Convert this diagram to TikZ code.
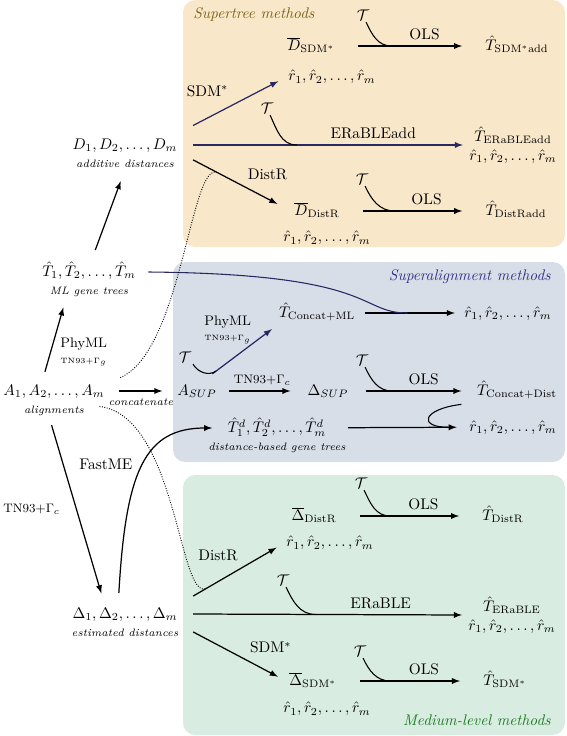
\documentclass[tikz,border=0pt]{standalone}
\usepackage{amsmath}
\usepackage{amssymb}
\usetikzlibrary{positioning,calc}
\definecolor{supfill}{HTML}{F9E7C9}
\definecolor{alnfill}{HTML}{D8DEE7}
\definecolor{medfill}{HTML}{D8ECE1}
\definecolor{suptext}{HTML}{7A6116}
\definecolor{alntext}{HTML}{3A2D8A}
\definecolor{medtext}{HTML}{1D7A22}
\definecolor{navy}{HTML}{2A2862}

\begin{document}
\begin{tikzpicture}
  [x=0.65pt, y=-0.65pt,
  term/.style={inner sep=2pt, text height=2.2ex, text depth=0.8ex},
  rlist/.style={inner sep=1pt},
  pair/.style={inner sep=2pt, align=center},
  caption/.style={font=\scriptsize\itshape, inner sep=1pt},
  tcal/.style={inner sep=1pt},
  line/.style={draw, -latex, line width=0.8pt},
  fan/.style={line, shorten >=6pt},
  ols/.style={line, shorten <=13pt, shorten >=13pt},
  tlink/.style={draw, line width=0.7pt},
  dotline/.style={draw, densely dotted, line width=0.6pt},
  title/.style={font=\itshape, inner sep=0pt}]
  \useasboundingbox (0,0) rectangle (567,736);
  % boxes
  \fill [supfill, rounded corners=8pt] (183,0) rectangle (565,247);
  \fill [alnfill, rounded corners=8pt] (173,262) rectangle (565,462);
  \fill [medfill, rounded corners=8pt] (183,475) rectangle (565,735);
  \node [title, suptext, anchor=west] at (193,15) {Supertree methods};
  \node [title, alntext, anchor=east] at (551,277) {Superalignment methods};
  \node [title, medtext, anchor=east] at (551,720) {Medium-level methods};
  % input data
  \node [term] (dadd) at (125,145) {$D_1, D_2, \ldots, D_m$};
  \node [caption, below=0pt of dadd] (daddcap) {additive distances};
  \node [term] (mlgt) at (89,272) {$\hat{T}_1, \hat{T}_2, \ldots, \hat{T}_m$};
  \node [caption, below=0pt of mlgt] (mlgtcap) {ML gene trees};
  \node [term] (aln) at (54,391) {$A_1, A_2, \ldots, A_m$};
  \node [caption, below=0pt of aln] (alncap) {alignments};
  \node [term] (estd) at (125,614) {$\Delta_1, \Delta_2, \ldots, \Delta_m$};
  \node [caption, below=0pt of estd] (estdcap) {estimated distances};
  % supertree methods
  \node [term] (dsdm) at (311,46) {$\overline{D}_{\mathrm{SDM}^*}$};
  \node [rlist] (rsdm) at (332,77) {$\hat{r}_1, \hat{r}_2, \ldots, \hat{r}_m$};
  \node [term] (tsdm) at (517,46) {$\hat{T}_{\mathrm{SDM}^*\mathrm{add}}$};
  \node [pair] (terab) at (513,145) {$\hat{T}_{\mathrm{ERaBLEadd}}$\\$\hat{r}_1, \hat{r}_2, \ldots, \hat{r}_m$};
  \node [term] (ddis) at (317,211) {$\overline{D}_{\mathrm{DistR}}$};
  \node [rlist] (rdis) at (327,238) {$\hat{r}_1, \hat{r}_2, \ldots, \hat{r}_m$};
  \node [term] (tdis) at (516,211) {$\hat{T}_{\mathrm{DistRadd}}$};
  \node [tcal] (tc1) at (363,15) {$\mathcal{T}$};
  \node [tcal] (tc2) at (267,108) {$\mathcal{T}$};
  \node [tcal] (tc3) at (362,179) {$\mathcal{T}$};
  % superalignment methods
  \node [term] (asup) at (197,391) {$A_{SUP}$};
  \node [term] (dsup) at (328,391) {$\Delta_{SUP}$};
  \node [term] (tcml) at (317,313) {$\hat{T}_{\mathrm{Concat{+}ML}}$};
  \node [term] (rml) at (508,313) {$\hat{r}_1, \hat{r}_2, \ldots, \hat{r}_m$};
  \node [term] (tcd) at (517,391) {$\hat{T}_{\mathrm{Concat{+}Dist}}$};
  \node [term] (tdgt) at (277,428) {$\hat{T}^d_1, \hat{T}^d_2, \ldots, \hat{T}^d_m$};
  \node [caption, below=0pt of tdgt] (tdgtcap) {distance-based gene trees};
  \node [term] (rcd) at (513,427) {$\hat{r}_1, \hat{r}_2, \ldots, \hat{r}_m$};
  \node [tcal] (tc4) at (362,360) {$\mathcal{T}$};
  \node [tcal] (tc5) at (185,357) {$\mathcal{T}$};
  % medium-level methods
  \node [term] (ddm) at (314,516) {$\overline{\Delta}_{\mathrm{DistR}}$};
  \node [rlist] (rdm) at (330,543) {$\hat{r}_1, \hat{r}_2, \ldots, \hat{r}_m$};
  \node [term] (tdm) at (503,516) {$\hat{T}_{\mathrm{DistR}}$};
  \node [pair] (terabm) at (512,615) {$\hat{T}_{\mathrm{ERaBLE}}$\\$\hat{r}_1, \hat{r}_2, \ldots, \hat{r}_m$};
  \node [term] (dsdmm) at (313,681) {$\overline{\Delta}_{\mathrm{SDM}^*}$};
  \node [rlist] (rsdmm) at (327,709) {$\hat{r}_1, \hat{r}_2, \ldots, \hat{r}_m$};
  \node [term] (tsdmm) at (505,681) {$\hat{T}_{\mathrm{SDM}^*}$};
  \node [tcal] (tc6) at (361,483) {$\mathcal{T}$};
  \node [tcal] (tc7) at (283,580) {$\mathcal{T}$};
  \node [tcal] (tc8) at (360,651) {$\mathcal{T}$};
  % left column
  \path [line, shorten <=6pt, shorten >=8pt] ([xshift=2pt]mlgt.north) -- (daddcap.south);
  \path [line, shorten <=4pt, shorten >=6pt] ([xshift=-7pt]aln.north) -- node [pos=.32, right=6pt, align=left, inner sep=0pt] {\small PhyML\\[-2pt]{\tiny TN93+$\Gamma_g$}} ([xshift=-15pt]mlgtcap.south);
  \path [line, shorten <=7.5pt, shorten >=7.5pt] (aln) -- node [below=1pt, font=\scriptsize\itshape] {concatenate} (asup);
  \path [line, shorten <=5pt, shorten >=5pt] ([xshift=-3pt]alncap.south) -- node [left=7pt, font=\footnotesize] {TN93+$\Gamma_c$} ([xshift=-14pt]estd.north);
  \path [line, shorten >=8pt] ([shift={(-4pt,5pt)}]estd.north) .. controls +(7,-122) and +(-80,0) .. node [pos=.5, left=4pt] {FastME} (tdgt.west);
  % supertree edges
  \path [fan, draw=navy] ([shift={(8pt,4pt)}]dadd.north east) -- node [above left=1pt, pos=.45] {SDM$^*$} (rsdm.west);
  \path [line, draw=navy, shorten >=2pt] ([xshift=8pt]dadd.east) -- node [above, pos=.66] {ERaBLEadd} coordinate [pos=.38] (j2) (terab.west);
  \path [fan, shorten >=10pt] ([shift={(8pt,-1pt)}]dadd.south east) -- node [above right, pos=.5] {DistR} coordinate [pos=.25] (jds) (ddis.west);
  \path [ols] (dsdm) -- node [above, pos=.6] {OLS} coordinate [pos=.37] (j1) (tsdm);
  \path [ols] (ddis) -- node [above, pos=.6] {OLS} coordinate [pos=.37] (j3) (tdis);
  \path [tlink] ([xshift=2pt]tc1.south) to [out=-65, in=180] (j1);
  \path [tlink] ([xshift=2pt]tc2.south) to [out=-65, in=180] (j2);
  \path [tlink] ([xshift=2pt]tc3.south) to [out=-65, in=180] (j3);
  % superalignment edges
  \path [line, shorten <=4pt, shorten >=4pt] (tcml) -- coordinate [pos=.48] (jml) (rml);
  \path [tlink, draw=navy] ([xshift=6pt]mlgt.east) .. controls +(230,2) and +(-50,0) .. (jml);
  \path [line, draw=navy, shorten >=3pt] ([shift={(-5pt,2.5pt)}]asup.north east) -- node [pos=.62, above left=0pt, align=left, inner sep=0pt] {\small PhyML\\[-2pt]{\tiny TN93+$\Gamma_g$}} coordinate [pos=.06] (jphy) (tcml.south west);
  \path [tlink] (tc5.south east) to [out=-60, in=215] (jphy);
  \path [line, shorten <=6pt, shorten >=9pt] (asup) -- node [above, font=\footnotesize] {TN93+$\Gamma_c$} (dsup);
  \path [line, shorten <=9pt, shorten >=8pt] (dsup) -- node [above, pos=.59] {OLS} coordinate [pos=.33] (j4) (tcd);
  \path [tlink] ([xshift=2pt]tc4.south) to [out=-65, in=180] (j4);
  \path [line, shorten <=12pt, shorten >=6pt] (tdgt) -- coordinate [pos=.87] (jcd) (rcd);
  \path [tlink] ([xshift=-8pt]tcd.south west) .. controls +(-40,5) and +(-30,0) .. (jcd);
  % medium-level edges
  \path [fan] ([shift={(8pt,3pt)}]estd.north east) -- node [above left=0pt, pos=.55] {DistR} coordinate [pos=.15] (jdm) (rdm.west);
  \path [line, shorten >=2pt] ([xshift=8pt]estd.east) -- node [above, pos=.69] {ERaBLE} coordinate [pos=.45] (j7) (terabm.west);
  \path [fan] ([shift={(8pt,-3pt)}]estd.south east) -- node [above right, pos=.55] {SDM$^*$} (dsdmm.west);
  \path [ols] (ddm) -- node [above, pos=.6] {OLS} coordinate [pos=.36] (j6) (tdm);
  \path [ols] (dsdmm) -- node [above, pos=.6] {OLS} coordinate [pos=.36] (j8) (tsdmm);
  \path [tlink] ([xshift=2pt]tc6.south) to [out=-65, in=180] (j6);
  \path [tlink] ([xshift=2pt]tc7.south) to [out=-65, in=180] (j7);
  \path [tlink] ([xshift=2pt]tc8.south) to [out=-65, in=180] (j8);
  % dotted links
  \path [dotline] ([xshift=8pt]aln.north east) .. controls +(62,-27) and +(-27,-13) .. (jds);
  \path [dotline] ([shift={(9pt,3pt)}]alncap.east) .. controls +(78,10) and +(-28,16) .. (jdm);
\end{tikzpicture}
\end{document}
